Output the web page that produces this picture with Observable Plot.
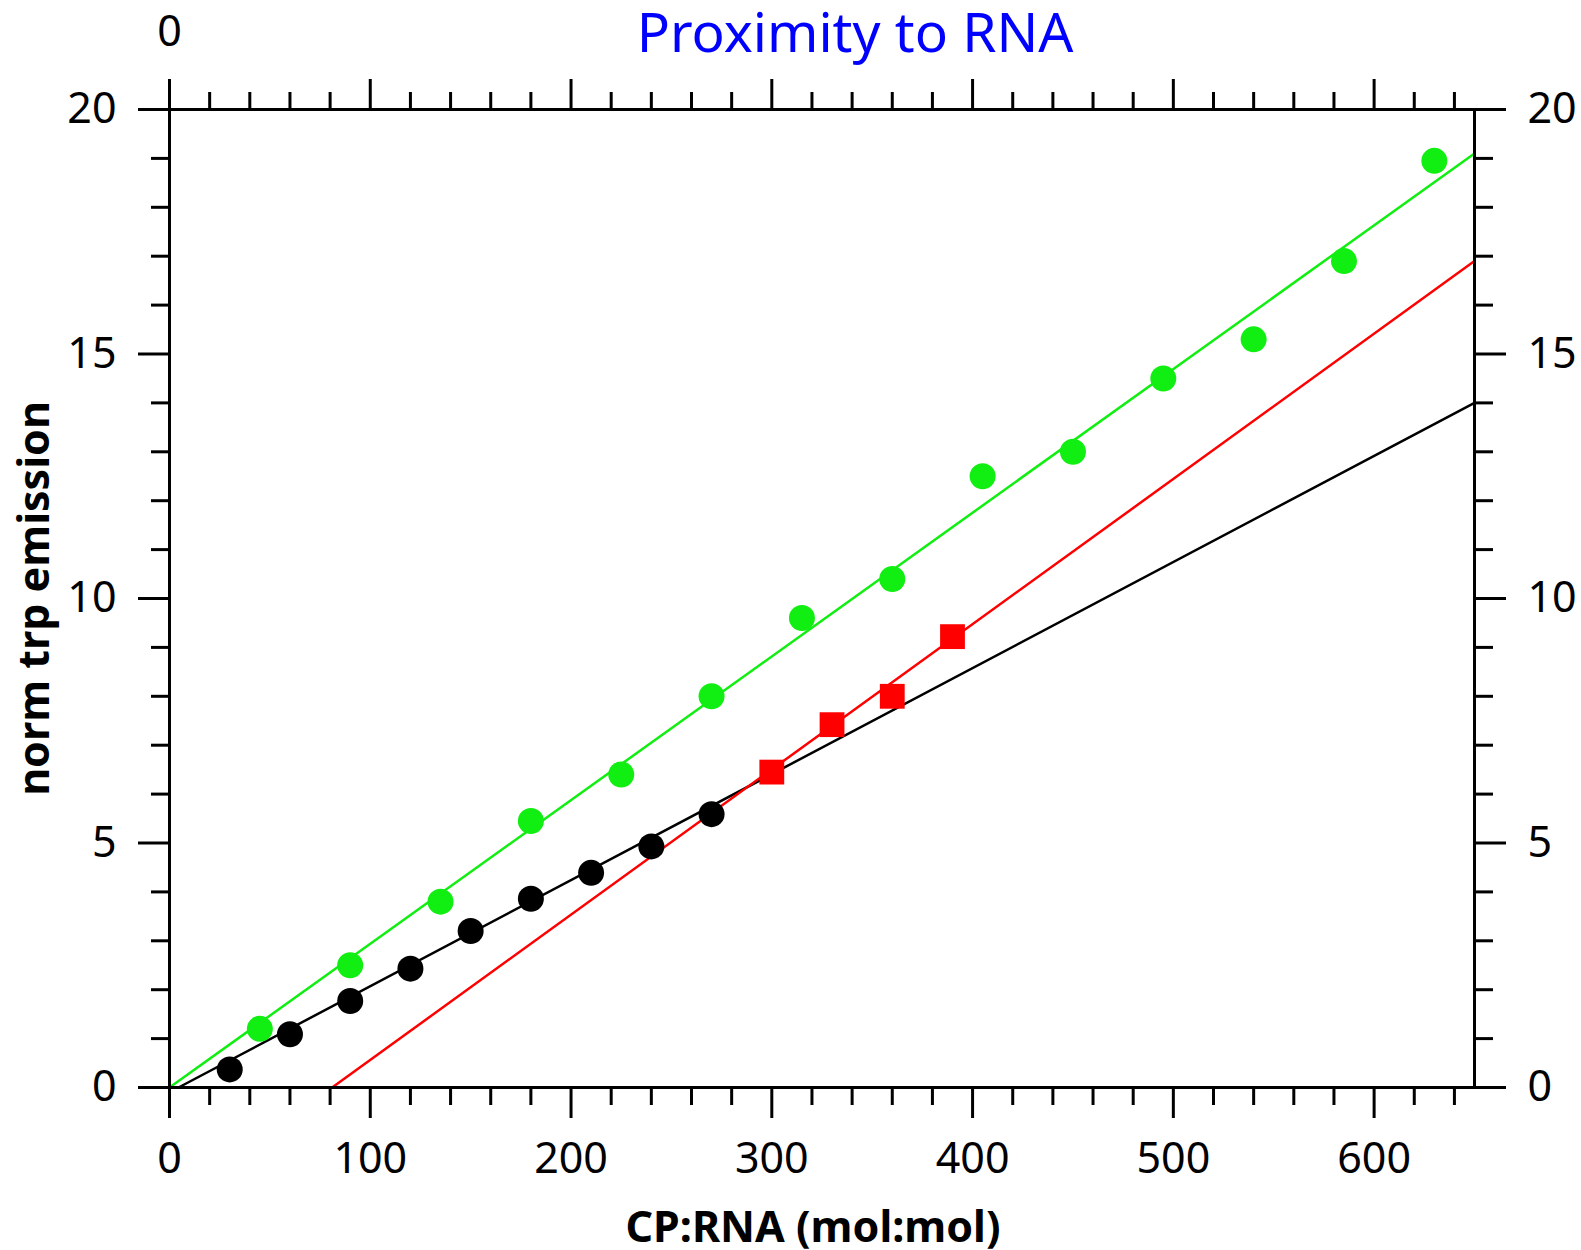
<!DOCTYPE html>
<html>
<head>
<meta charset="utf-8">
<script src="https://cdn.jsdelivr.net/npm/d3@7"></script>
<script src="https://cdn.jsdelivr.net/npm/@observablehq/plot@0.6"></script>
<style>
  html, body { margin: 0; padding: 0; background: white; }
</style>
</head>
<body>
<div id="chart"></div>
<script>
// ---- data ----
const greenX = [45, 90, 135, 180, 225, 270, 315, 360, 405, 450, 495, 540, 585, 630];
const greenY = [1.2, 2.5, 3.8, 5.45, 6.4, 8.0, 9.6, 10.4, 12.5, 13.0, 14.5, 15.3, 16.9, 18.95];
const blackX = [30, 60, 90, 120, 150, 180, 210, 240, 270];
const blackY = [0.37, 1.09, 1.77, 2.43, 3.2, 3.86, 4.39, 4.93, 5.59];
const redX = [300, 330, 360, 390];
const redY = [6.45, 7.42, 8.0, 9.22];
// fitted lines (endpoints in data units)
const greenFitX = [0, 650], greenFitY = [0, 19.1];
const blackFitX = [4.5, 650], blackFitY = [0, 14.0];
const redFitX = [81, 650], redFitY = [0, 16.9];
// ticks
const xMajor = [0, 100, 200, 300, 400, 500, 600];
const xMinor = [20, 40, 60, 80, 120, 140, 160, 180, 220, 240, 260, 280, 320, 340, 360, 380,
                420, 440, 460, 480, 520, 540, 560, 580, 620, 640];
const yMajor = [0, 5, 10, 15, 20];
const yMinor = [1, 2, 3, 4, 6, 7, 8, 9, 11, 12, 13, 14, 16, 17, 18, 19];
const topLabels = [0];
const titleText = "Proximity to RNA";
const xLabel = "CP:RNA (mol:mol)";
const yLabel = "norm trp emission";

const GREEN = "#11ee11", RED = "#ff0000", BLACK = "#000000";
const pts = (xs, ys) => xs.map((x, i) => ({x, y: ys[i]}));
const none = () => "";

const chart = Plot.plot({
  width: 1581,
  height: 1250,
  marginLeft: 169,
  marginRight: 107,
  marginTop: 109,
  marginBottom: 163,
  x: {domain: [0, 650]},
  y: {domain: [0, 20]},
  style: {fontFamily: "Noto Sans", background: "white", color: "black", overflow: "visible"},
  marks: [
    // fitted lines
    Plot.line(pts(greenFitX, greenFitY), {x: "x", y: "y", stroke: GREEN, strokeWidth: 2.5}),
    Plot.line(pts(blackFitX, blackFitY), {x: "x", y: "y", stroke: BLACK, strokeWidth: 2.5}),
    Plot.line(pts(redFitX, redFitY), {x: "x", y: "y", stroke: RED, strokeWidth: 2.5}),
    // data points
    Plot.dot(pts(greenX, greenY), {x: "x", y: "y", r: 13, fill: GREEN}),
    Plot.dot(pts(blackX, blackY), {x: "x", y: "y", r: 13, fill: BLACK}),
    Plot.dot(pts(redX, redY), {x: "x", y: "y", r: 14, symbol: "square", fill: RED}),
    // frame
    Plot.frame({stroke: "black", strokeWidth: 3}),
    // bottom axis
    Plot.axisX(xMajor, {anchor: "bottom", tickSize: 31, tickPadding: 24, strokeWidth: 3, fontSize: 43, label: null}),
    Plot.axisX(xMinor, {anchor: "bottom", tickSize: 18, strokeWidth: 3, tickFormat: none, label: null}),
    // top axis
    Plot.axisX(xMajor, {anchor: "top", tickSize: 31, strokeWidth: 3, tickFormat: none, label: null}),
    Plot.axisX(xMinor, {anchor: "top", tickSize: 18, strokeWidth: 3, tickFormat: none, label: null}),
    Plot.axisX(topLabels, {anchor: "top", tickSize: 0, tickPadding: 64, fontSize: 43, label: null}),
    // left axis
    Plot.axisY(yMajor, {anchor: "left", tickSize: 31, tickPadding: 22, strokeWidth: 3, fontSize: 43, label: null}),
    Plot.axisY(yMinor, {anchor: "left", tickSize: 18, strokeWidth: 3, tickFormat: none, label: null}),
    // right axis
    Plot.axisY(yMajor, {anchor: "right", tickSize: 31, tickPadding: 22, strokeWidth: 3, fontSize: 43, label: null}),
    Plot.axisY(yMinor, {anchor: "right", tickSize: 18, strokeWidth: 3, tickFormat: none, label: null}),
    // title
    Plot.text([titleText], {frameAnchor: "top", dx: 33, dy: -75, lineAnchor: "middle", textAnchor: "middle",
      fontSize: 55, fill: "#0000ff", text: d => d}),
    // axis labels
    Plot.text([xLabel], {frameAnchor: "bottom", dx: -9, dy: 141, lineAnchor: "middle", textAnchor: "middle",
      fontSize: 43, fontWeight: "bold", fill: "black", text: d => d}),
    Plot.text([yLabel], {frameAnchor: "left", dx: -134, dy: 0, rotate: -90, lineAnchor: "middle", textAnchor: "middle",
      fontSize: 43, fontWeight: "bold", fill: "black", text: d => d})
  ]
});
document.getElementById("chart").appendChild(chart);
</script>
</body>
</html>
